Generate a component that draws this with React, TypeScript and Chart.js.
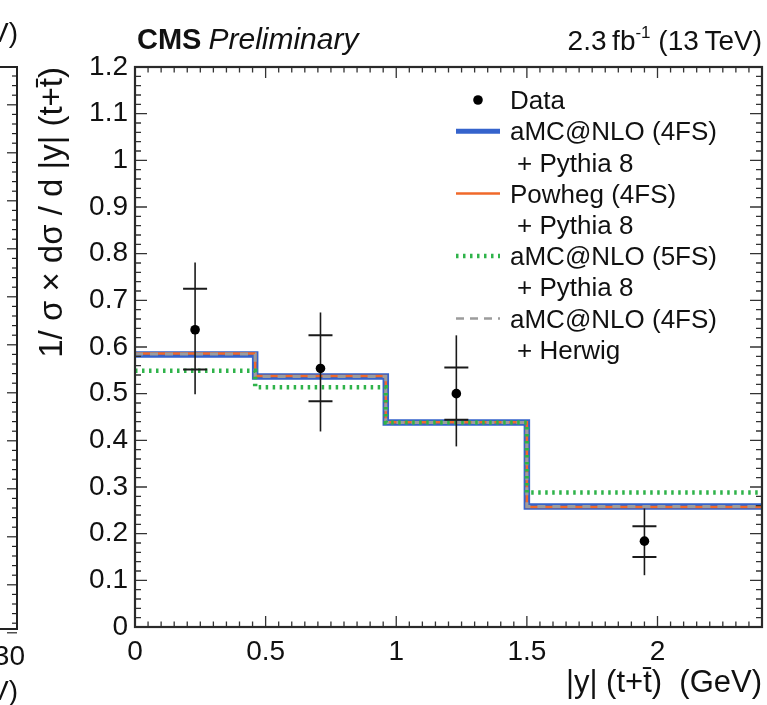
import React, { useEffect, useRef } from 'react';
import { Chart, registerables } from 'chart.js';

Chart.register(...registerables);

// ---- data ----
const binEdges = [0, 0.46, 0.96, 1.5, 2.4];
const amc4fsPythia = [0.584, 0.537, 0.438, 0.258];
const powheg4fsPythia = [0.586, 0.538, 0.439, 0.257];
const amc5fsPythia = [0.549, 0.514, 0.438, 0.288];
const amc4fsHerwig = [0.585, 0.537, 0.438, 0.258];

const dataX = [0.23, 0.71, 1.23, 1.95];
const dataY = [0.637, 0.554, 0.5, 0.184];
const totErrUp = [0.144, 0.12, 0.125, 0.07];
const totErrDown = [0.138, 0.135, 0.113, 0.073];
const statErrUp = [0.088, 0.071, 0.056, 0.032];
const statErrDown = [0.085, 0.07, 0.056, 0.034];

const xTicks = [0, 0.5, 1, 1.5, 2];
const yTicks = [0, 0.1, 0.2, 0.3, 0.4, 0.5, 0.6, 0.7, 0.8, 0.9, 1, 1.1, 1.2];
const xRange = [0, 2.4];
const yRange = [0, 1.2];
const xMinorStep = 0.05;
const yMinorStep = 0.02;

const legendItems = [
  { kind: 'marker', lines: ['Data'] },
  { kind: 'blue', lines: ['aMC@NLO (4FS)', '+ Pythia 8'] },
  { kind: 'orange', lines: ['Powheg (4FS)', '+ Pythia 8'] },
  { kind: 'green', lines: ['aMC@NLO (5FS)', '+ Pythia 8'] },
  { kind: 'gray', lines: ['aMC@NLO (4FS)', '+ Herwig'] },
];

const FONT = '"Liberation Sans", Arial, Helvetica, sans-serif';
const BLUE = '#3563cc';
const ORANGE = '#f0692a';
const GREEN = '#2fb34a';
const GRAY = '#9c9c9c';
const INK = '#1a1a1a';

const stepPoints = (vals: number[]) => [
  ...vals.map((v, i) => ({ x: binEdges[i], y: v })),
  { x: binEdges[binEdges.length - 1], y: vals[vals.length - 1] },
];

const errorBarPlugin = {
  id: 'errorBars',
  beforeDatasetDraw(chart: any, args: any) {
    if (chart.data.datasets[args.index].label !== 'Data') return;
    const { ctx, scales } = chart;
    const xs = scales.x;
    const ys = scales.y;
    ctx.save();
    ctx.strokeStyle = INK;
    dataX.forEach((xv, i) => {
      const px = xs.getPixelForValue(xv);
      const yTop = ys.getPixelForValue(dataY[i] + totErrUp[i]);
      const yBot = ys.getPixelForValue(dataY[i] - totErrDown[i]);
      ctx.lineWidth = 1.6;
      ctx.beginPath();
      ctx.moveTo(px, yTop);
      ctx.lineTo(px, yBot);
      ctx.stroke();
      const sUp = ys.getPixelForValue(dataY[i] + statErrUp[i]);
      const sDn = ys.getPixelForValue(dataY[i] - statErrDown[i]);
      ctx.lineWidth = 2;
      ctx.beginPath();
      ctx.moveTo(px - 12, sUp);
      ctx.lineTo(px + 12, sUp);
      ctx.moveTo(px - 12, sDn);
      ctx.lineTo(px + 12, sDn);
      ctx.stroke();
    });
    ctx.restore();
  },
};

const framePlugin = {
  id: 'frame',
  afterDraw(chart: any) {
    const { ctx, chartArea: ca, scales } = chart;
    const xs = scales.x;
    const ys = scales.y;
    ctx.save();
    ctx.strokeStyle = '#333';
    ctx.lineWidth = 1.3;
    const nx = Math.round((xRange[1] - xRange[0]) / xMinorStep);
    for (let k = 0; k <= nx; k++) {
      const v = xRange[0] + k * xMinorStep;
      const major = Math.abs(v / 0.5 - Math.round(v / 0.5)) < 1e-6;
      const len = major ? 11 : 5.5;
      const px = xs.getPixelForValue(v);
      ctx.beginPath();
      ctx.moveTo(px, ca.bottom);
      ctx.lineTo(px, ca.bottom - len);
      ctx.moveTo(px, ca.top);
      ctx.lineTo(px, ca.top + len);
      ctx.stroke();
    }
    const ny = Math.round((yRange[1] - yRange[0]) / yMinorStep);
    for (let k = 0; k <= ny; k++) {
      const v = yRange[0] + k * yMinorStep;
      const major = Math.abs(v / 0.1 - Math.round(v / 0.1)) < 1e-6;
      const len = major ? 12 : 6;
      const py = ys.getPixelForValue(v);
      ctx.beginPath();
      ctx.moveTo(ca.left, py);
      ctx.lineTo(ca.left + len, py);
      ctx.moveTo(ca.right, py);
      ctx.lineTo(ca.right - len, py);
      ctx.stroke();
    }
    ctx.lineWidth = 2.2;
    ctx.strokeStyle = '#2a2a2a';
    ctx.strokeRect(ca.left, ca.top, ca.right - ca.left, ca.bottom - ca.top);

    // header texts
    ctx.fillStyle = '#111';
    ctx.textBaseline = 'alphabetic';
    ctx.textAlign = 'left';
    ctx.font = `bold 29px ${FONT}`;
    ctx.fillText('CMS', ca.left + 2, 49);
    const cmsW = ctx.measureText('CMS').width;
    ctx.font = `italic 30px ${FONT}`;
    ctx.fillText('Preliminary', ca.left + 2 + cmsW + 7, 49);

    const big = `28px ${FONT}`;
    const small = `17px ${FONT}`;
    ctx.font = big;
    const p1 = '2.3\u2009fb';
    const p3 = ' (13\u2009TeV)';
    const w1 = ctx.measureText(p1).width;
    const w3 = ctx.measureText(p3).width;
    ctx.font = small;
    const w2 = ctx.measureText('-1').width;
    const startX = ca.right - (w1 + w2 + w3);
    ctx.font = big;
    ctx.fillText(p1, startX, 50);
    ctx.font = small;
    ctx.fillText('-1', startX + w1, 38);
    ctx.font = big;
    ctx.fillText(p3, startX + w1 + w2, 50);

    // legend
    const symL = 456;
    const symR = 500;
    const textX = 510;
    let rowY = 100;
    const rowH = 31.2;
    ctx.font = `26px ${FONT}`;
    ctx.textBaseline = 'middle';
    legendItems.forEach((it) => {
      ctx.save();
      if (it.kind === 'marker') {
        ctx.fillStyle = '#000';
        ctx.beginPath();
        ctx.arc((symL + symR) / 2, rowY, 4.8, 0, Math.PI * 2);
        ctx.fill();
      } else {
        ctx.beginPath();
        ctx.moveTo(symL, rowY);
        ctx.lineTo(symR, rowY);
        if (it.kind === 'blue') {
          ctx.strokeStyle = BLUE;
          ctx.lineWidth = 5;
        } else if (it.kind === 'orange') {
          ctx.strokeStyle = ORANGE;
          ctx.lineWidth = 2.5;
        } else if (it.kind === 'green') {
          ctx.strokeStyle = GREEN;
          ctx.lineWidth = 4.5;
          ctx.setLineDash([2.5, 4.5]);
        } else {
          ctx.strokeStyle = GRAY;
          ctx.lineWidth = 2.5;
          ctx.setLineDash([8, 6]);
        }
        ctx.stroke();
      }
      ctx.restore();
      ctx.fillStyle = '#111';
      it.lines.forEach((t, j) => {
        ctx.fillText(t, j === 0 ? textX : textX + 7, rowY + 2);
        rowY += rowH;
      });
    });

    // neighbouring panel fragment on the left edge
    ctx.strokeStyle = '#222';
    ctx.lineWidth = 2;
    ctx.beginPath();
    ctx.moveTo(0, ca.top);
    ctx.lineTo(17, ca.top);
    ctx.lineTo(17, ca.bottom + 2);
    ctx.lineTo(0, ca.bottom + 2);
    ctx.stroke();
    ctx.lineWidth = 1.2;
    for (let k = 0; k * 9.6 < ca.bottom - ca.top; k++) {
      const py = ca.top + 9 + k * 9.6;
      const len = k % 5 === 3 ? 10 : 5;
      ctx.beginPath();
      ctx.moveTo(17, py);
      ctx.lineTo(17 - len, py);
      ctx.stroke();
    }
    ctx.fillStyle = '#111';
    ctx.textBaseline = 'alphabetic';
    ctx.textAlign = 'right';
    ctx.font = `28px ${FONT}`;
    ctx.fillText('(GeV)', 18, 42);
    ctx.fillText('30', 25, 665);
    ctx.fillText('(GeV)', 18, 700);
    ctx.restore();
  },
};

export default function App() {
  const ref = useRef<HTMLCanvasElement | null>(null);

  useEffect(() => {
    document.body.style.margin = '0';
    const canvas = ref.current;
    if (!canvas) return;
    const lineDs = (label: string, vals: number[], extra: any) => ({
      type: 'line',
      label,
      data: stepPoints(vals),
      stepped: 'before',
      pointRadius: 0,
      fill: false,
      tension: 0,
      ...extra,
    });
    const chart = new Chart(canvas, {
      type: 'scatter',
      data: {
        datasets: [
          {
            type: 'scatter',
            label: 'Data',
            data: dataX.map((x, i) => ({ x, y: dataY[i] })),
            pointRadius: 4.8,
            pointBackgroundColor: '#000',
            pointBorderColor: '#000',
            pointBorderWidth: 0,
            order: 0,
          },
          lineDs('aMC@NLO (5FS) + Pythia 8', amc5fsPythia, {
            borderColor: GREEN,
            borderWidth: 4.5,
            borderDash: [2.5, 4.5],
            order: 1,
          }),
          lineDs('aMC@NLO (4FS) + Herwig', amc4fsHerwig, {
            borderColor: GRAY,
            borderWidth: 3,
            borderDash: [8, 7],
            order: 2,
          }),
          lineDs('Powheg (4FS) + Pythia 8', powheg4fsPythia, {
            borderColor: ORANGE,
            borderWidth: 2.5,
            order: 3,
          }),
          lineDs('aMC@NLO (4FS) + Pythia 8', amc4fsPythia, {
            borderColor: BLUE,
            borderWidth: 6.5,
            order: 4,
          }),
        ] as any,
      },
      options: {
        animation: false,
        responsive: false,
        maintainAspectRatio: false,
        layout: { padding: { left: 0, top: 67, right: 5, bottom: 0 } },
        plugins: {
          legend: { display: false },
          tooltip: { enabled: false },
        },
        scales: {
          x: {
            type: 'linear',
            min: xRange[0],
            max: xRange[1],
            grid: { display: false, drawTicks: false },
            border: { display: false },
            afterFit: (s: any) => {
              s.height = 78;
            },
            afterBuildTicks: (s: any) => {
              s.ticks = xTicks.map((v) => ({ value: v }));
            },
            ticks: {
              padding: 8,
              color: '#111',
              font: { family: FONT, size: 28 },
              callback: (v: any) => String(+Number(v).toFixed(2)),
            },
            title: {
              display: true,
              text: '|y| (t+t\u0304)  (GeV)',
              align: 'end',
              color: '#111',
              font: { family: FONT, size: 31 },
              padding: { top: 0, bottom: 3 },
            },
          },
          y: {
            type: 'linear',
            min: yRange[0],
            max: yRange[1],
            grid: { display: false, drawTicks: false },
            border: { display: false },
            afterFit: (s: any) => {
              s.width = 135;
            },
            afterBuildTicks: (s: any) => {
              s.ticks = yTicks.map((v) => ({ value: v }));
            },
            ticks: {
              padding: 7,
              color: '#111',
              font: { family: FONT, size: 28 },
              callback: (v: any) => String(+Number(v).toFixed(2)),
            },
            title: {
              display: true,
              text: '1/ \u03c3 \u00d7 d\u03c3 / d |y| (t+t\u0304)',
              align: 'end',
              color: '#111',
              font: { family: FONT, size: 33 },
              padding: { top: 33, bottom: 0 },
            },
          },
        },
      } as any,
      plugins: [errorBarPlugin, framePlugin],
    });
    return () => chart.destroy();
  }, []);

  return (
    <div style={{ position: 'fixed', left: 0, top: 0, width: 767, height: 705, background: '#fff' }}>
      <canvas ref={ref} width={767} height={705} style={{ width: 767, height: 705, display: 'block' }} />
    </div>
  );
}
